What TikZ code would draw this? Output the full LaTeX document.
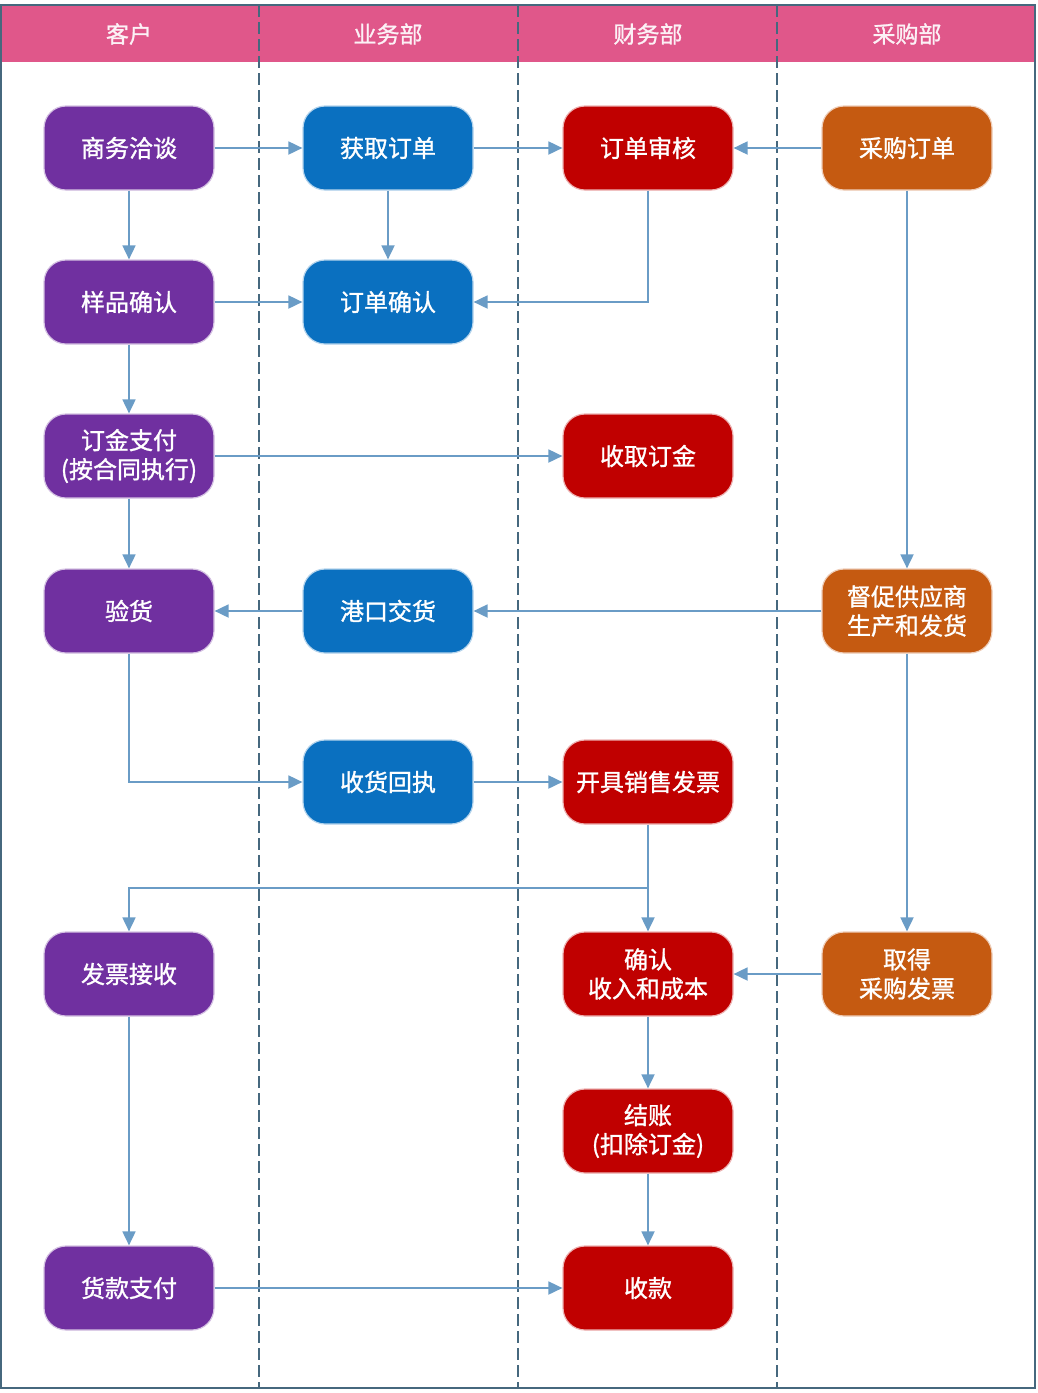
\documentclass[tikz,border=0pt]{standalone}
\usepackage{fontspec}
\setmainfont{Noto Sans CJK SC}[FakeBold=1.2]
\usetikzlibrary{arrows.meta}
\definecolor{headpink}{HTML}{E0578A}
\definecolor{kehu}{HTML}{7030A0}
\definecolor{yewu}{HTML}{0A70C0}
\definecolor{caiwu}{HTML}{C00000}
\definecolor{caigou}{HTML}{C55A11}
\definecolor{flowline}{HTML}{6A9CC6}
\definecolor{laneline}{HTML}{46687E}

\begin{document}
\begin{tikzpicture} [x=1pt, y=-1pt,
    box/.style={rounded corners=22pt, minimum width=170pt, minimum height=84pt,
      inner sep=0pt, align=center, text=white, line width=1.2pt,
      font=\fontsize{24}{29}\selectfont},
    kh/.style={box, fill=kehu, draw=kehu!30},
    yw/.style={box, fill=yewu, draw=yewu!30},
    cw/.style={box, fill=caiwu, draw=caiwu!30},
    cg/.style={box, fill=caigou, draw=caigou!30},
    lane/.style={font=\fontsize{23}{27}\selectfont, text=white!92!headpink},
    flow/.style={draw=flowline, line width=1.8pt, -{Triangle[length=14pt,width=13pt]}}
  ]
  \useasboundingbox (0,0) rectangle (1037,1393);
  % swimlanes
  \fill[headpink] (1,5) rectangle (1035,62);
  \draw[white, dashed, line width=1pt, dash pattern=on 6pt off 4pt] (1,62) -- (1035,62);
  \draw[laneline, line width=1.5pt] (1,5) rectangle (1035,1388);
  \foreach \x in {259,518,777}
    \draw[laneline, line width=1.5pt, dash pattern=on 12pt off 5pt] (\x,5) -- (\x,1388);
  \node[lane] (l1) at (129,34) {客户};
  \node[lane] (l2) at (388,34) {业务部};
  \node[lane] (l3) at (648,34) {财务部};
  \node[lane] (l4) at (907,34) {采购部};

  % boxes
  \node[kh] (shangwu) at (129,148) {商务洽谈};
  \node[kh] (yangpin) at (129,302) {样品确认};
  \node[kh] (dingjin) at (129,456) {订金支付\\(按合同执行)};
  \node[kh] (yanhuo)  at (129,611) {验货};
  \node[kh] (fpjs)    at (129,974) {发票接收};
  \node[kh] (huokuan) at (129,1288) {货款支付};

  \node[yw] (huoqu)   at (388,148) {获取订单};
  \node[yw] (ddqr)    at (388,302) {订单确认};
  \node[yw] (gangkou) at (388,611) {港口交货};
  \node[yw] (huizhi)  at (388,782) {收货回执};

  \node[cw] (shenhe)  at (648,148) {订单审核};
  \node[cw] (shouqu)  at (648,456) {收取订金};
  \node[cw] (kaiju)   at (648,782) {开具销售发票};
  \node[cw] (srcb)    at (648,974) {确认\\收入和成本};
  \node[cw] (jiezhang) at (648,1131) {结账\\(扣除订金)};
  \node[cw] (shoukuan) at (648,1288) {收款};

  \node[cg] (cgdd)    at (907,148) {采购订单};
  \node[cg] (duncu)   at (907,611) {督促供应商\\生产和发货};
  \node[cg] (qude)    at (907,974) {取得\\采购发票};

  % flows
  \coordinate (fork) at (648,888);
  \draw[flow] (shangwu) -- (huoqu);
  \draw[flow] (huoqu) -- (shenhe);
  \draw[flow] (cgdd) -- (shenhe);
  \draw[flow] (shangwu) -- (yangpin);
  \draw[flow] (huoqu) -- (ddqr);
  \draw[flow] (yangpin) -- (ddqr);
  \draw[flow] (shenhe.south) |- (ddqr.east);
  \draw[flow] (yangpin) -- (dingjin);
  \draw[flow] (dingjin) -- (shouqu);
  \draw[flow] (dingjin) -- (yanhuo);
  \draw[flow] (cgdd) -- (duncu);
  \draw[flow] (duncu) -- (gangkou);
  \draw[flow] (gangkou) -- (yanhuo);
  \draw[flow] (yanhuo.south) |- (huizhi.west);
  \draw[flow] (huizhi) -- (kaiju);
  \draw[draw=flowline, line width=1.8pt] (kaiju.south) -- (fork);
  \draw[flow] (fork) -- (srcb);
  \draw[flow] (fork) -| (fpjs.north);
  \draw[flow] (duncu) -- (qude);
  \draw[flow] (qude) -- (srcb);
  \draw[flow] (srcb) -- (jiezhang);
  \draw[flow] (jiezhang) -- (shoukuan);
  \draw[flow] (fpjs) -- (huokuan);
  \draw[flow] (huokuan) -- (shoukuan);
\end{tikzpicture}
\end{document}
